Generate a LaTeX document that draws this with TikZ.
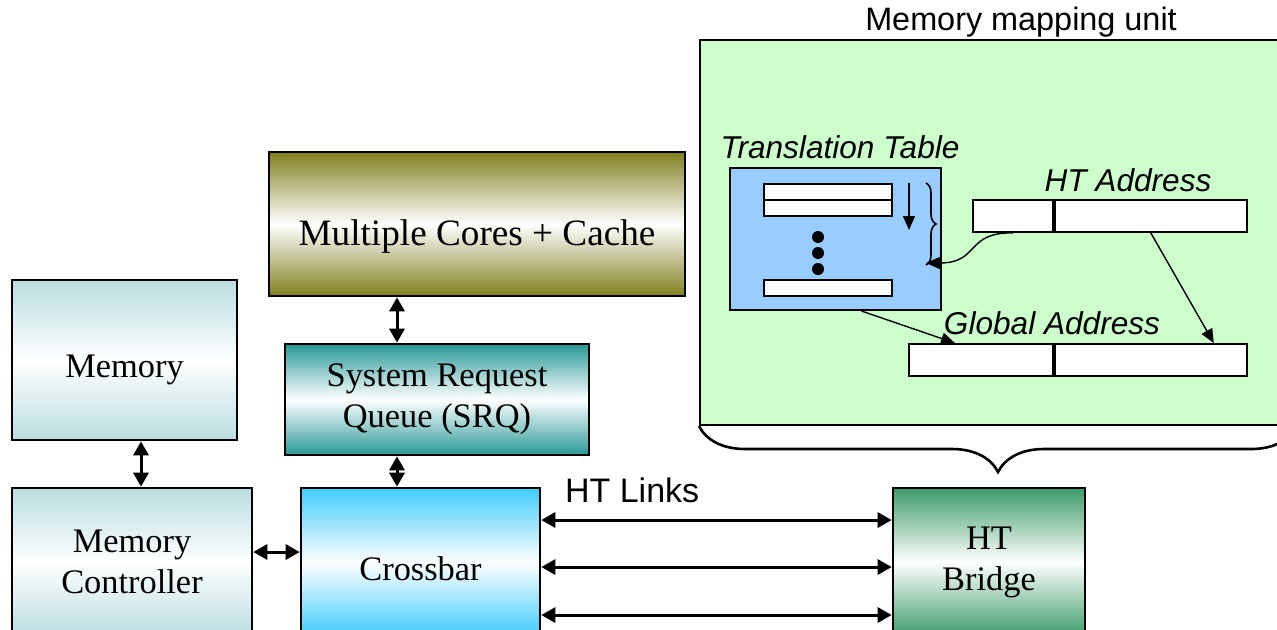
\documentclass[tikz,border=0pt]{standalone}
\usepackage{fontspec}
\setmainfont{Liberation Serif}
\setsansfont{Liberation Sans}
\usetikzlibrary{arrows.meta,decorations.pathreplacing}

\definecolor{olivec}{RGB}{128,128,32}
\definecolor{srqc}{RGB}{40,152,150}
\definecolor{memc}{RGB}{185,222,224}
\definecolor{xbarc}{RGB}{64,204,255}
\definecolor{bridgec}{RGB}{60,155,105}
\definecolor{mmuc}{RGB}{204,255,204}
\definecolor{tabc}{RGB}{153,204,255}

\begin{document}
\begin{tikzpicture}[x=0.5pt, y=-0.5pt,
  blk/.style={draw, line width=1.3pt, align=center, inner sep=0pt,
              font=\fontsize{17.2}{20.5}\selectfont,
              top color=#1, bottom color=#1, middle color=white},
  lnk/.style={{Triangle[length=7pt,width=7.5pt]}-{Triangle[length=7pt,width=7.5pt]}, line width=1.5pt},
  fld/.style={draw, fill=white, line width=0.9pt, inner sep=0pt, minimum height=16pt},
  ent/.style={fld, minimum width=64pt, minimum height=8pt},
  thin/.style={-{Triangle[length=7pt,width=6pt]}, line width=0.7pt},
  lbl/.style={font=\sffamily\itshape\fontsize{15.8}{18}\selectfont},
]
  \useasboundingbox (0,0) rectangle (1277,629);
  \clip (0,0) rectangle (1277,629);

  % memory mapping unit
  \node[draw, fill=mmuc, line width=1pt, minimum width=298pt, minimum height=192.5pt] (mmu) at (998,232.5) {};
  \node[font=\sffamily\fontsize{16.2}{19}\selectfont] (mmulbl) at (1021,22) {Memory mapping unit};
  \draw[decorate, decoration={brace, mirror, amplitude=23pt}, line width=1.3pt] (mmu.south west) -- (mmu.south east);

  \node[draw, fill=tabc, line width=1pt, minimum width=105.5pt, minimum height=71pt] (tab) at (835.5,239) {};
  \node[lbl] (tablbl) at (840,147) {Translation Table};
  \node[ent] (e1) at (828,192) {};
  \node[ent] (e2) at (828,208) {};
  \node[ent] (e3) at (828,288) {};
  \foreach \y in {237,253,269}
    \fill (818,\y) circle (3pt);

  \node[lbl] (htlbl) at (1128,180) {HT Address};
  \node[fld, minimum width=40pt] (htA) at (1013,216) {};
  \node[fld, minimum width=96pt, anchor=west] (htB) at (htA.east) {};

  \node[lbl] (galbl) at (1052,323) {Global Address};
  \node[fld, minimum width=72pt] (gaA) at (981,360) {};
  \node[fld, minimum width=96pt, anchor=west] (gaB) at (gaA.east) {};

  \coordinate (ptop) at (909,183);
  \coordinate (pbot) at (909,230);
  \coordinate (tin) at (926,263);
  \draw[thin] (ptop) -- (pbot);
  \draw[decorate, decoration={brace, amplitude=5pt}, line width=0.8pt] (926,183) -- (926,265);
  \draw[thin] (htA.south) .. controls (965,232) and (980,263) .. (tin);
  \draw[thin] ([xshift=13pt]tab.south) -- ([xshift=-13pt]gaA.north);
  \draw[thin] (htB.south) -- ([xshift=31.5pt]gaB.north);

  % processor blocks
  \node[blk=olivec, minimum width=208pt, minimum height=72pt, font=\fontsize{18.6}{22}\selectfont] (cores) at (477,224) {\raisebox{-6.5pt}[\height][\depth]{Multiple Cores + Cache}};
  \node[blk=srqc, minimum width=152pt, minimum height=55.5pt] (srq) at (437,399.5) {System Request\\Queue (SRQ)};
  \node[blk=memc, minimum width=112.5pt, minimum height=80pt] (mem) at (124.5,360) {\raisebox{-5pt}[\height][\depth]{Memory}};
  \node[blk=memc, minimum width=120pt, minimum height=74pt] (memctl) at (132,562) {Memory\\Controller};
  \node[blk=xbarc, minimum width=119.5pt, minimum height=74pt] (xbar) at (420.5,562) {\raisebox{-3.5pt}[\height][\depth]{Crossbar}};
  \node[blk=bridgec, minimum width=96pt, minimum height=74pt] (bridge) at (989,562) {HT\\Bridge};

  \draw[lnk] ([xshift=8.25pt]mem.south) -- ([xshift=8.25pt]mem.south |- memctl.north);
  \draw[lnk] ([xshift=-40pt]cores.south) -- ([xshift=-40pt]cores.south |- srq.north);
  \draw[lnk] ([xshift=-20pt]srq.south) -- ([xshift=-20pt]srq.south |- xbar.north);
  \draw[lnk] ([yshift=5pt]memctl.east) -- ([yshift=5pt]memctl.east -| xbar.west);
  \foreach \dy in {21,-2.5,-26.5}
    \draw[lnk] ([yshift=\dy pt]xbar.east) -- ([yshift=\dy pt]xbar.east -| bridge.west);
  \node[font=\sffamily\fontsize{17}{20}\selectfont, anchor=west] (links) at (558,490) {HT Links};
\end{tikzpicture}
\end{document}
